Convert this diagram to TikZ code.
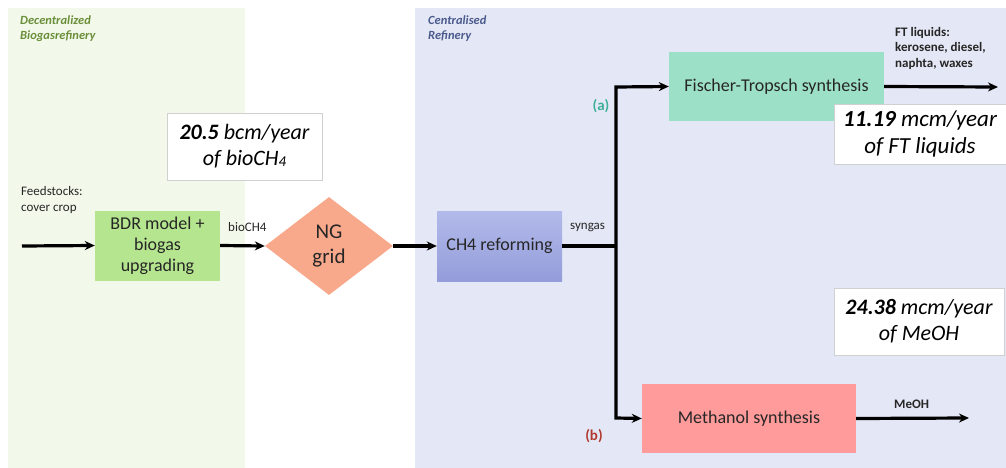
\documentclass[tikz,border=0pt]{standalone}
\usepackage{fontspec}
\setmainfont{Carlito}
\usetikzlibrary{arrows.meta,shapes.geometric}
\definecolor{pgreen}{HTML}{F2F9EA}
\definecolor{pblue}{HTML}{E4E7F5}
\definecolor{hgreen}{HTML}{6B8E3A}
\definecolor{hblue}{HTML}{4A5A8C}
\definecolor{bdr}{HTML}{B5E68F}
\definecolor{ngc}{HTML}{F9A98B}
\definecolor{reftop}{HTML}{B2BAEA}
\definecolor{refbot}{HTML}{949DDA}
\definecolor{ftc}{HTML}{9DE0C8}
\definecolor{meo}{HTML}{FF9B9B}
\definecolor{tealc}{HTML}{3DAF9A}
\definecolor{redc}{HTML}{B03A2E}
\definecolor{txt}{HTML}{262626}
\definecolor{bord}{HTML}{D0D0D0}
\tikzset{
  proc/.style={rectangle, inner sep=0pt, text=txt, font=\fontsize{18}{21}\selectfont, align=center},
  flow/.style={line width=3.2pt, -{Stealth[length=10pt,width=9pt]}},
  flowline/.style={line width=3.2pt},
  small/.style={font=\fontsize{13}{16}\selectfont, text=txt, align=left, inner sep=0pt},
  smallb/.style={font=\fontsize{13}{15.5}\selectfont\bfseries, text=txt, align=left, inner sep=0pt},
  head/.style={font=\fontsize{12.5}{15}\selectfont\bfseries\itshape, align=left, inner sep=0pt},
  lab/.style={font=\fontsize{15}{17}\selectfont\bfseries, inner sep=0pt},
  valbox/.style={rectangle, fill=white, draw=bord, line width=0.6pt, inner sep=0pt, text=black, align=center, font=\fontsize{22}{26}\selectfont\itshape}
}
\begin{document}
\begin{tikzpicture}[x=1pt,y=-1pt]
\useasboundingbox (0,0) rectangle (1006,468);
\fill[white] (0,0) rectangle (1006,468);
% panels
\fill[pgreen] (8,8) rectangle (245,468);
\fill[pblue] (415,8) rectangle (1006,468);
\node[head, text=hgreen, anchor=north west] (hl) at (20,16) {Decentralized\\Biogasrefinery};
\node[head, text=hblue, anchor=north west] (hr) at (428,16) {Centralised\\Refinery};
% value box left
\node[valbox, minimum width=155pt, minimum height=67pt] (v1) at (244.5,146.5) {\textbf{20.5} bcm/year\\of bioCH\raisebox{-0.1ex}{\fontsize{15}{15}\selectfont 4}};
% nodes
\node[small, anchor=north west] (fs) at (21,186) {Feedstocks:\\cover crop};
\coordinate (in) at (22,246);
\node[proc, fill=bdr, minimum width=125pt, minimum height=70pt] (bdr) at (157.5,245.5) {BDR model +\\biogas\\upgrading};
\node[small, anchor=south west] (bio) at (228,232) {bioCH4};
\node[diamond, fill=ngc, minimum width=128pt, minimum height=98pt, inner sep=0pt, text=txt, align=center, font=\fontsize{21}{25}\selectfont] (ng) at (329,246) {NG\\grid};
\node[proc, top color=reftop, bottom color=refbot, minimum width=125pt, minimum height=70pt] (cr) at (499.5,246) {CH4 reforming};
\node[small, anchor=south west] (sy) at (570,232) {syngas};
\coordinate (jn) at (616,246);
\coordinate (ja) at (616,87);
\coordinate (jb) at (616,418);
\node[proc, fill=ftc, minimum width=215pt, minimum height=69pt] (ft) at (776.5,86.5) {Fischer-Tropsch synthesis};
\node[proc, fill=meo, minimum width=214pt, minimum height=69pt] (me) at (749,418.5) {Methanol synthesis};
\node[lab, text=tealc] (la) at (601,106) {(a)};
\node[lab, text=redc] (lb) at (594,436) {(b)};
\coordinate (fto) at (998,87);
\coordinate (meo) at (969,418);
\node[smallb, anchor=north west] (ftl) at (895,27) {FT liquids:\\kerosene, diesel,\\naphta, waxes};
\node[smallb, anchor=south west] (mh) at (894,409) {MeOH};
\node[valbox, minimum width=172pt, minimum height=60pt, font=\fontsize{23}{27}\selectfont\itshape] (v2) at (920,134) {\textbf{11.19} mcm/year\\of FT liquids};
\node[valbox, minimum width=170pt, minimum height=67pt] (v3) at (919,321.5) {\textbf{24.38} mcm/year\\of MeOH};
% connectors
\draw[flow] (in) -- (bdr.west);
\draw[flow] (bdr.east) -- (ng.west);
\draw[flow] (ng.east) -- (cr.west);
\draw[flowline] (cr.east) -- (jn);
\draw[flow] (jn) -- (ja) -- (ft.west);
\draw[flow] (jn) -- (jb) -- (me.west);
\draw[flow] (ft.east) -- (fto);
\draw[flow] (me.east) -- (meo);
\end{tikzpicture}
\end{document}
